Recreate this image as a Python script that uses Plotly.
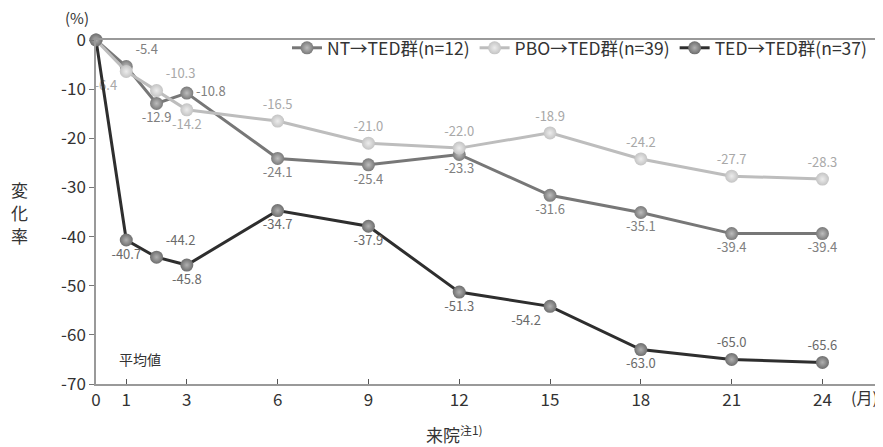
import plotly.graph_objects as go

months = [0, 1, 2, 3, 6, 9, 12, 15, 18, 21, 24]
tick_vals = [0, 1, 3, 6, 9, 12, 15, 18, 21, 24]
y_ticks = [0, -10, -20, -30, -40, -50, -60, -70]

nt_name = "NT→TED群(n=12)"
nt_vals = [0, -5.4, -12.9, -10.8, -24.1, -25.4, -23.3, -31.6, -35.1, -39.4, -39.4]
pbo_name = "PBO→TED群(n=39)"
pbo_vals = [0, -6.4, -10.3, -14.2, -16.5, -21.0, -22.0, -18.9, -24.2, -27.7, -28.3]
ted_name = "TED→TED群(n=37)"
ted_vals = [0, -40.7, -44.2, -45.8, -34.7, -37.9, -51.3, -54.2, -63.0, -65.0, -65.6]

y_title_chars = ["変", "化", "率"]

FONT = "Noto Sans CJK JP"

def labels(vals):
    return [""] + [f"{v:.1f}" for v in vals[1:]]

nt_pos = ["top center", "top right", "bottom center", "middle right", "bottom center", "bottom center",
          "bottom center", "bottom center", "bottom center", "bottom center", "bottom center"]
pbo_pos = ["top center", "bottom left", "top right", "bottom center", "top center", "top center",
           "top center", "top center", "top center", "top center", "top center"]
ted_pos = ["top center", "bottom center", "top right", "bottom center", "bottom center", "bottom center",
           "bottom center", "bottom left", "bottom center", "top center", "top center"]

fig = go.Figure()

def add(name, vals, pos, line_color, m_color, m_center, txt_color):
    fig.add_trace(go.Scatter(
        x=months, y=vals, name=name, mode="lines+markers+text",
        text=labels(vals), textposition=pos,
        textfont=dict(family=FONT, size=13, color=txt_color),
        line=dict(color=line_color, width=3),
        marker=dict(size=13, color=m_color,
                    gradient=dict(type="radial", color=m_center),
                    line=dict(width=0)),
        cliponaxis=False,
    ))

add(nt_name, nt_vals, nt_pos, "#777777", "#7a7a7a", "#bdbdbd", "#808080")
add(pbo_name, pbo_vals, pbo_pos, "#bdbdbd", "#c4c4c4", "#ececec", "#a8a8a8")
add(ted_name, ted_vals, ted_pos, "#2e2e2e", "#6e6e6e", "#b0b0b0", "#6a6a6a")

# page body has an 8px default margin, so the figure is offset by (8, 8)
fig.update_layout(
    width=875, height=439,
    margin=dict(l=88, r=0, t=32, b=63),
    paper_bgcolor="white", plot_bgcolor="white",
    font=dict(family=FONT, color="#333333", size=15),
    showlegend=True,
    legend=dict(orientation="h", x=0.986, xanchor="right", y=0.977, yanchor="middle",
                font=dict(family=FONT, size=17.5, color="#333333"),
                bgcolor="rgba(0,0,0,0)", tracegroupgap=0),
    xaxis=dict(range=[0, 26], tickvals=tick_vals, ticktext=[str(v) for v in tick_vals],
               automargin=False,
               showgrid=False, zeroline=False, showline=True, linecolor="#999999", linewidth=1.5,
               mirror=True, ticks="inside", ticklen=5, tickcolor="#555555",
               tickfont=dict(family=FONT, size=17, color="#333333")),
    yaxis=dict(range=[-70, 0], tickvals=y_ticks, ticktext=[str(v) for v in y_ticks],
               automargin=False, showgrid=False, zeroline=False,
               showline=True, linecolor="#999999", linewidth=1.5,
               ticks="outside", ticklen=5, tickcolor="#777777",
               tickfont=dict(family=FONT, size=17, color="#333333")),
)

fig.add_annotation(text="(%)", xref="paper", yref="paper", x=-0.024, y=1.0, yshift=23,
                   xanchor="center", yanchor="middle", showarrow=False,
                   font=dict(family=FONT, size=15, color="#333333"))
for i, ch in enumerate(y_title_chars):
    fig.add_annotation(text=ch, xref="paper", yref="paper", x=-0.097, y=0.5,
                       yshift=23 - 23 * i, xanchor="center", yanchor="middle", showarrow=False,
                       font=dict(family=FONT, size=17, color="#333333"))
fig.add_annotation(text="平均値", xref="x", yref="y", x=0.7, y=-64.9, xanchor="left",
                   yanchor="middle", showarrow=False,
                   font=dict(family=FONT, size=14, color="#333333"))
fig.add_annotation(text="(月)", xref="x", yref="paper", x=25.4, y=0, yshift=-13,
                   xanchor="center", yanchor="middle", showarrow=False,
                   font=dict(family=FONT, size=16, color="#333333"))
fig.add_annotation(text="来院<sup>注1)</sup>", xref="x", yref="paper", x=11.85, y=0, yshift=-50,
                   xanchor="center", yanchor="middle", showarrow=False,
                   font=dict(family=FONT, size=17, color="#333333"))

fig.write_html("out.html")
